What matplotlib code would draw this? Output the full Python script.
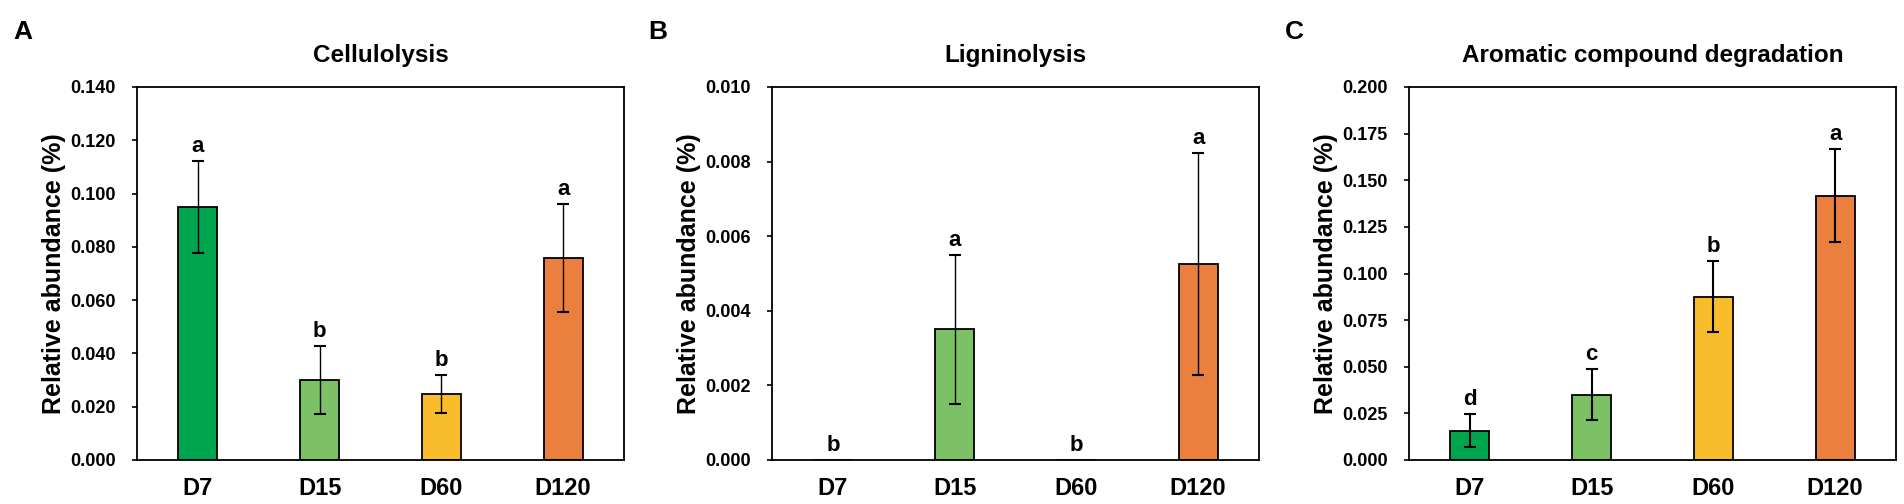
import numpy as np
import matplotlib
matplotlib.use("Agg")
import matplotlib.pyplot as plt

plt.rcParams['font.family'] = ['Liberation Sans', 'DejaVu Sans']
plt.rcParams['font.weight'] = 'bold'

categories = ["D7", "D15", "D60", "D120"]
colors = ["#00A550", "#7DC166", "#F9BD2B", "#EA7F3E"]

cellulolysis_mean = [0.0949, 0.0300, 0.0247, 0.0757]
cellulolysis_err = [0.0173, 0.0128, 0.0072, 0.0203]
cellulolysis_letters = ["a", "b", "b", "a"]

ligninolysis_mean = [0.0, 0.00350, 0.0, 0.00525]
ligninolysis_err = [0.0, 0.00200, 0.0, 0.00298]
ligninolysis_letters = ["b", "a", "b", "a"]

aromatic_mean = [0.0157, 0.0349, 0.0876, 0.1418]
aromatic_err = [0.0088, 0.0137, 0.0191, 0.0250]
aromatic_letters = ["d", "c", "b", "a"]

panels = [
    ("A", "Cellulolysis", cellulolysis_mean, cellulolysis_err, cellulolysis_letters,
     0.140, 0.020, 1.0),
    ("B", "Ligninolysis", ligninolysis_mean, ligninolysis_err, ligninolysis_letters,
     0.010, 0.002, 1.0),
    ("C", "Aromatic compound degradation", aromatic_mean, aromatic_err, aromatic_letters,
     0.200, 0.025, 1.5),
]

W, H = 1904, 504
fig = plt.figure(figsize=(W / 100, H / 100), dpi=100)
lefts = [137, 772, 1409]
x = np.arange(len(categories))

for left, (tag, title, mean, err, letters, ymax, step, elw) in zip(lefts, panels):
    ax = fig.add_axes([left / W, 44 / H, 487 / W, 373 / H])
    mean = np.array(mean)
    err = np.array(err)
    ax.bar(x, mean, 0.32, color=colors, edgecolor="black", linewidth=1.3, zorder=2)
    shown = err > 0
    ax.errorbar(x[shown], mean[shown], yerr=err[shown], fmt="none", ecolor="black",
                elinewidth=elw, capsize=4.5, capthick=1.5, zorder=3)
    for xi, m, e, lt in zip(x, mean, err, letters):
        ax.annotate(lt, xy=(xi, m + e), xytext=(0, 6.5), textcoords="offset points",
                    ha="center", va="baseline", fontsize=16, fontweight="bold")
    ax.set_xlim(-0.5, len(categories) - 0.5)
    ax.set_ylim(0, ymax)
    ticks = np.arange(0, ymax + step / 2, step)
    ax.set_yticks(ticks)
    ax.set_yticklabels(["{:.3f}".format(t) for t in ticks])
    ax.set_xticks(x)
    ax.set_xticklabels(categories)
    ax.tick_params(axis="y", direction="out", length=3.5, width=1.2, pad=12, labelsize=13)
    ax.tick_params(axis="x", length=0, pad=12, labelsize=17)
    for sp in ax.spines.values():
        sp.set_linewidth(1.3)
    ax.set_ylabel("Relative abundance (%)", fontsize=18, fontweight="bold", labelpad=3)
    ax.set_title(title, fontsize=17.5, fontweight="bold", pad=18)
    fig.text((left - 124) / W, 1 - 39.3 / H, tag, fontsize=19, fontweight="bold",
             va="baseline", ha="left")

fig.savefig("out.png", dpi=100)
